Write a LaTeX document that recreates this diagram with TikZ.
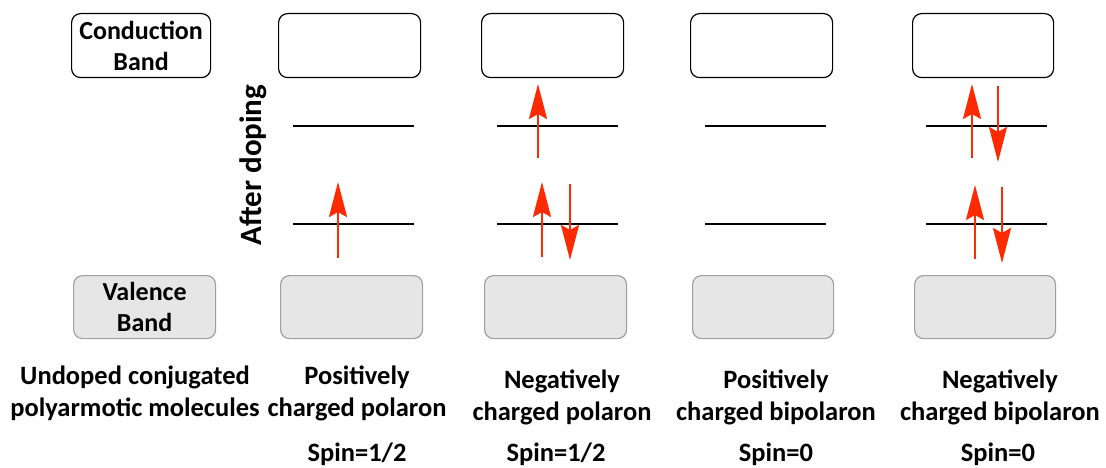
\documentclass[tikz,border=0pt]{standalone}
\usepackage{fontspec}
\setmainfont{Carlito}
\usetikzlibrary{arrows.meta}
\definecolor{spinred}{HTML}{FF2A00}
\definecolor{vbfill}{HTML}{E6E6E6}
\definecolor{vbdraw}{HTML}{A0A0A0}
\tikzset{
  cband/.style={draw=black, line width=1.2pt, fill=white, rounded corners=9pt,
    minimum width=142pt, minimum height=64pt, inner sep=0pt, anchor=north west},
  vband/.style={draw=vbdraw, line width=1.2pt, fill=vbfill, rounded corners=9pt,
    minimum width=142pt, minimum height=63pt, inner sep=0pt, anchor=north west},
  bandtxt/.style={align=center, font=\fontsize{26}{31}\selectfont\bfseries},
  lbl/.style={align=center, font=\fontsize{26.5}{32}\selectfont\bfseries},
  level/.style={line width=1.8pt, black},
  spin/.style={spinred, line width=2.6pt,
    -{Stealth[length=35pt, width=18pt, inset=5pt]}}
}
\begin{document}
\begin{tikzpicture}[x=1pt, y=-1pt]
\useasboundingbox (0,0) rectangle (1106,468);

% legend boxes
\node[cband, minimum width=139pt, bandtxt] (cbL) at (71,13) {Conduction\\Band};
\node[vband, bandtxt] (vbL) at (73,275) {Valence\\Band};

% conduction and valence bands of the four doped states
\node[cband] (cb1) at (278,13) {};
\node[cband] (cb2) at (481,13) {};
\node[cband] (cb3) at (690,13) {};
\node[cband, minimum width=141pt] (cb4) at (912,13) {};
\node[vband] (vb1) at (280,275) {};
\node[vband] (vb2) at (484,275) {};
\node[vband, minimum width=141pt] (vb3) at (692,275) {};
\node[vband, minimum width=141pt] (vb4) at (914,275) {};

\node[rotate=90, font=\fontsize{31}{34}\selectfont\bfseries] (dop) at (253,165) {After doping};

% localized gap levels
\foreach \i/\xa/\xb in {1/293/414, 2/497/618, 3/705/826, 4/926/1047} {
  \coordinate (u\i a) at (\xa,126); \coordinate (u\i b) at (\xb,126);
  \coordinate (l\i a) at (\xa,224); \coordinate (l\i b) at (\xb,224);
  \draw[level] (u\i a) -- (u\i b);
  \draw[level] (l\i a) -- (l\i b);
}

% spins
\coordinate (s1a) at (338,258); \coordinate (s1b) at (338,182);
\draw[spin] (s1a) -- (s1b);

\coordinate (s2a) at (538,158); \coordinate (s2b) at (538,84);
\coordinate (s2c) at (542,257); \coordinate (s2d) at (542,182);
\coordinate (s2e) at (570,184); \coordinate (s2f) at (570,260);
\draw[spin] (s2a) -- (s2b);
\draw[spin] (s2c) -- (s2d);
\draw[spin] (s2e) -- (s2f);

\coordinate (s4a) at (972,158); \coordinate (s4b) at (972,84);
\coordinate (s4c) at (998,86);  \coordinate (s4d) at (998,162);
\coordinate (s4e) at (975,259); \coordinate (s4f) at (975,185);
\coordinate (s4g) at (1002,187); \coordinate (s4h) at (1002,263);
\draw[spin] (s4a) -- (s4b);
\draw[spin] (s4c) -- (s4d);
\draw[spin] (s4e) -- (s4f);
\draw[spin] (s4g) -- (s4h);

% captions
\node[lbl] (t0) at (135,393) {Undoped conjugated\\polyarmotic molecules};
\node[lbl] (t1) at (357,393) {Positively\\charged polaron};
\node[lbl] (t2) at (562,397) {Negatively\\charged polaron};
\node[lbl] (t3) at (776,397) {Positively\\charged bipolaron};
\node[lbl] (t4) at (1000,397) {Negatively\\charged bipolaron};
\node[lbl] (p1) at (357,454) {Spin=1/2};
\node[lbl] (p2) at (556,454) {Spin=1/2};
\node[lbl] (p3) at (776,454) {Spin=0};
\node[lbl] (p4) at (998,454) {Spin=0};
\end{tikzpicture}
\end{document}
